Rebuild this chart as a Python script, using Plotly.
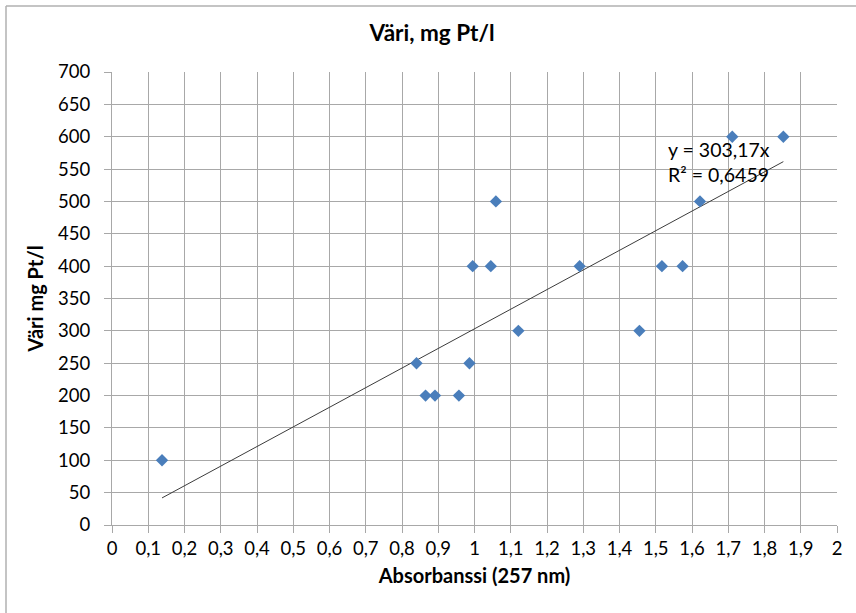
import plotly.graph_objects as go

# Data
absorbance = [0.138, 0.840, 0.865, 0.891, 0.957, 0.986, 0.995, 1.045, 1.059,
              1.121, 1.290, 1.455, 1.517, 1.574, 1.622, 1.711, 1.852]
color_mg = [100, 250, 200, 200, 200, 250, 400, 400, 500,
            300, 400, 300, 400, 400, 500, 600, 600]
slope = 303.17
r_squared_text = "0,6459"

x_tick_vals = [i / 10 for i in range(0, 21)]
x_tick_labels = ["0", "0,1", "0,2", "0,3", "0,4", "0,5", "0,6", "0,7", "0,8", "0,9",
                 "1", "1,1", "1,2", "1,3", "1,4", "1,5", "1,6", "1,7", "1,8", "1,9", "2"]
y_tick_vals = list(range(0, 701, 50))
y_tick_labels = [str(v) for v in y_tick_vals]

W, H = 856, 613
ML, MR, MT, MB = 112, 19, 72, 88
PW, PH = W - ML - MR, H - MT - MB

FONT = "Lato, 'Open Sans', sans-serif"
GRID = "#a8a8a8"

trend_x = [min(absorbance), max(absorbance)]
trend_y = [slope * v for v in trend_x]

fig = go.Figure()
fig.add_trace(go.Scatter(
    x=trend_x, y=trend_y, mode="lines",
    line=dict(color="#3c3c3c", width=1), hoverinfo="skip", showlegend=False))
fig.add_trace(go.Scatter(
    x=absorbance, y=color_mg, mode="markers",
    marker=dict(symbol="diamond", size=9.5, color="#4A7EBB", line=dict(width=0)),
    showlegend=False))

fig.add_annotation(
    x=1.5, y=561, xref="x", yref="y", xanchor="left", yanchor="middle",
    text="y = 303,17x<br>R² = " + r_squared_text, showarrow=False, align="left",
    font=dict(family=FONT, size=19.5, color="#000000"),
    xshift=(666 - (ML + 1.5 * PW / 2)))

# outer chart border (left and top visible)
def px_to_paper_x(px):
    return (px - ML) / PW

def px_to_paper_y(py):
    return (H - MB - py) / PH

fig.add_shape(type="line", xref="paper", yref="paper",
              x0=px_to_paper_x(6), x1=px_to_paper_x(6),
              y0=px_to_paper_y(6), y1=px_to_paper_y(620),
              line=dict(color="#b0b0b0", width=1.5))
fig.add_shape(type="line", xref="paper", yref="paper",
              x0=px_to_paper_x(6), x1=px_to_paper_x(900),
              y0=px_to_paper_y(6), y1=px_to_paper_y(6),
              line=dict(color="#b0b0b0", width=1.5))

fig.update_layout(
    width=W, height=H,
    margin=dict(l=ML, r=MR, t=MT, b=MB, autoexpand=False),
    paper_bgcolor="white", plot_bgcolor="white",
    title=dict(text="<b>Väri, mg Pt/l</b>", x=432 / W, xref="container", xanchor="center",
               y=1 - 33 / H, yref="container", yanchor="middle",
               font=dict(family=FONT, size=22.5, color="#000000")),
    xaxis=dict(range=[0, 2], tickvals=x_tick_vals, ticktext=x_tick_labels,
               showgrid=True, gridcolor=GRID, gridwidth=1,
               showline=True, linecolor=GRID, linewidth=1,
               ticks="outside", ticklen=7, tickcolor=GRID,
               tickfont=dict(family=FONT, size=18.5, color="#000000"),
               zeroline=False, fixedrange=True,
               title=dict(text="<b>Absorbanssi (257 nm)</b>", standoff=10,
                          font=dict(family=FONT, size=20, color="#000000"))),
    yaxis=dict(range=[0, 700], tickvals=y_tick_vals, ticktext=y_tick_labels,
               showgrid=True, gridcolor=GRID, gridwidth=1,
               showline=True, linecolor=GRID, linewidth=1,
               ticks="outside", ticklen=7, tickcolor=GRID,
               tickfont=dict(family=FONT, size=18.5, color="#000000"),
               ticklabelstandoff=10,
               zeroline=False, fixedrange=True,
               title=dict(text="<b>Väri mg Pt/l</b>", standoff=9,
                          font=dict(family=FONT, size=20, color="#000000"))),
)

fig.write_html("out.html")
